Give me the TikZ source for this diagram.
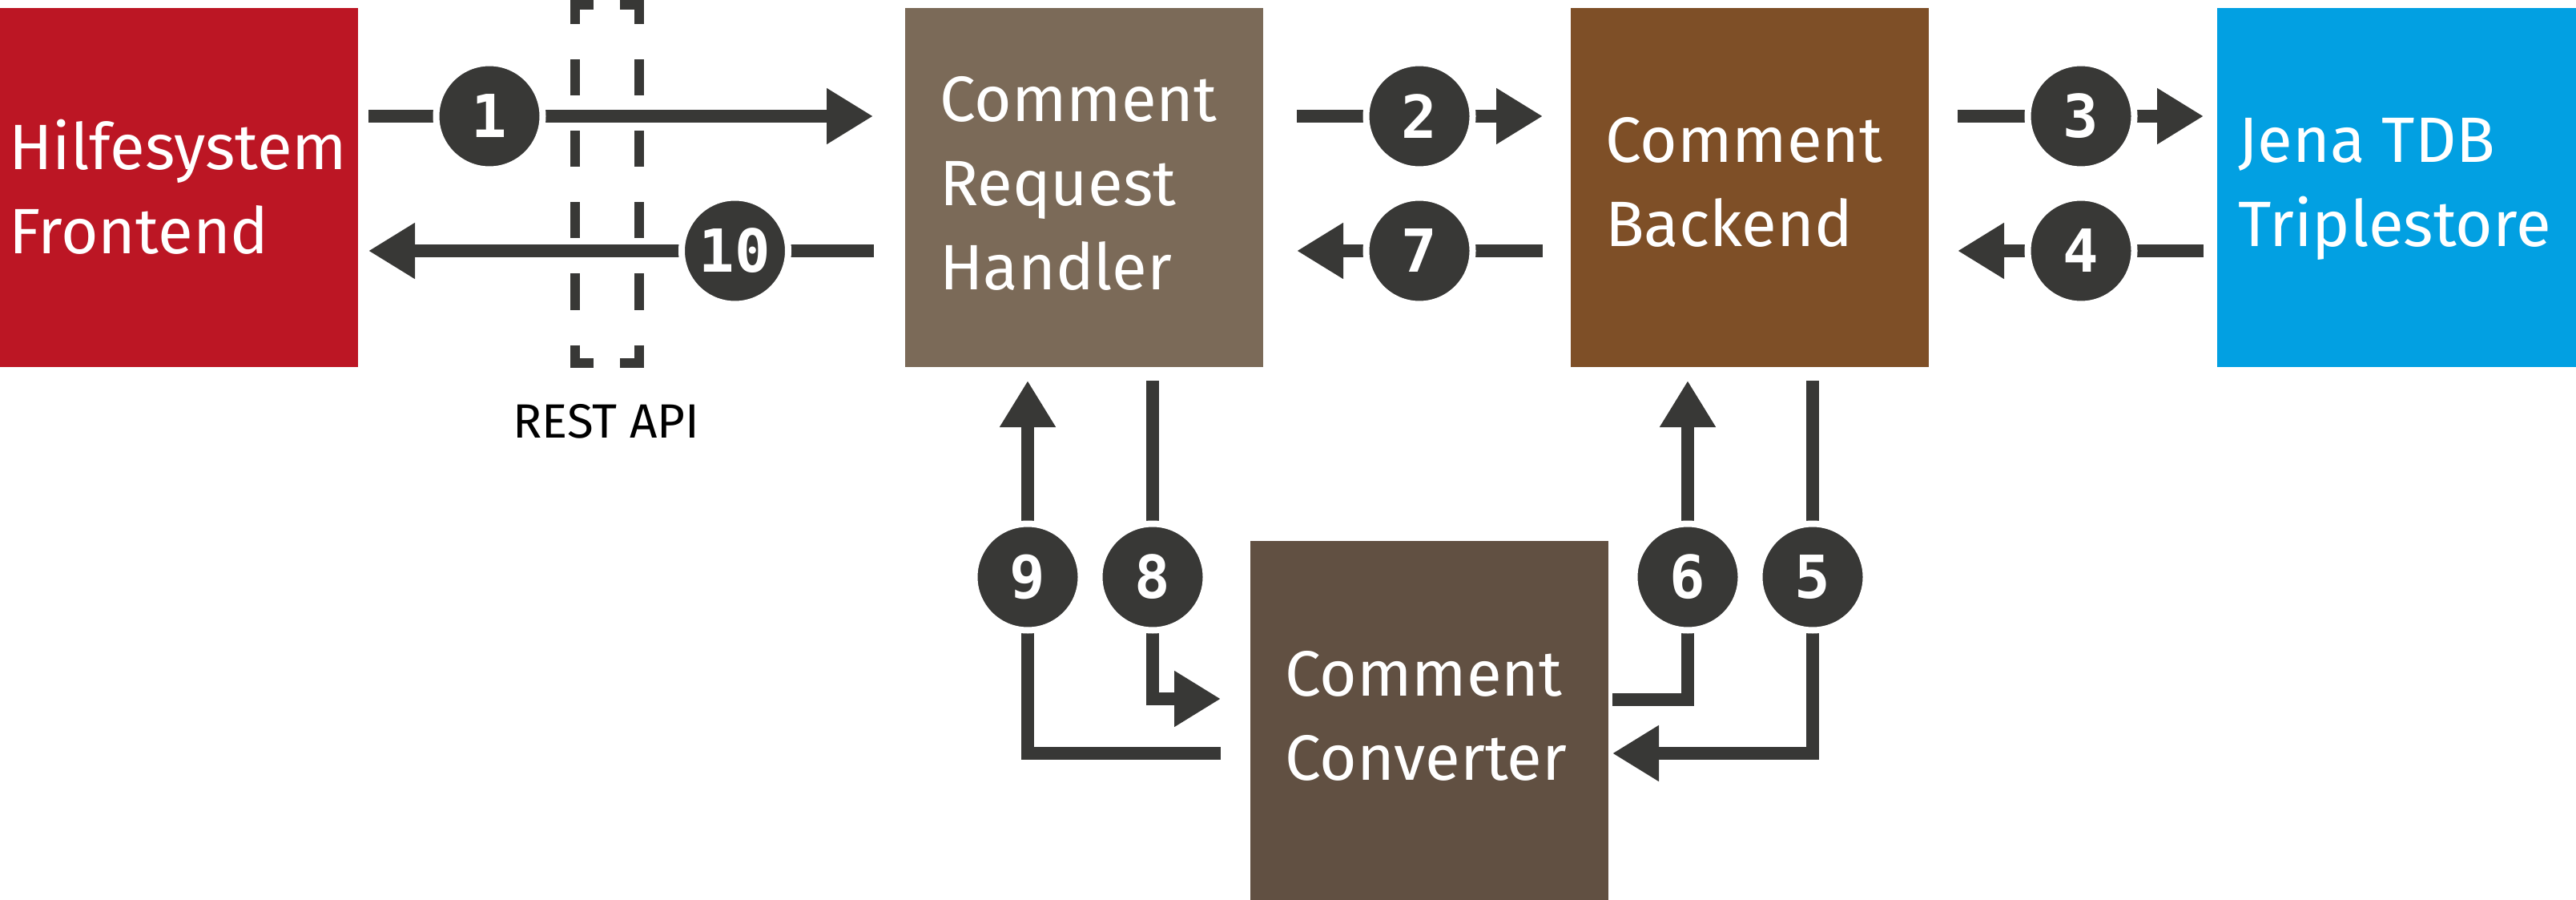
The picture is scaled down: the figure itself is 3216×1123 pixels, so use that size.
\documentclass[tikz,border=0pt]{standalone}
\usepackage{fontspec}
\setmainfont{Fira Sans}
\newfontfamily\numfont{DejaVu Sans Mono}
\usetikzlibrary{arrows.meta}
\definecolor{cfront}{HTML}{BC1624}
\definecolor{chandler}{HTML}{7B6A58}
\definecolor{cbackend}{HTML}{7E4F27}
\definecolor{cjena}{HTML}{02A0E2}
\definecolor{cconv}{HTML}{615042}
\definecolor{cdark}{HTML}{383836}
\begin{document}
\begin{tikzpicture}[x=1pt,y=-1pt,
  box/.style={inner sep=0pt, outer sep=0pt, anchor=north west, minimum width=447pt, minimum height=447.5pt},
  lbl/.style={text=white, anchor=base west, inner sep=0pt, font=\fontsize{80}{100}\selectfont},
  num/.style={circle, fill=cdark, draw=white, line width=8pt, minimum size=133pt, inner sep=0pt, text=white,
              font=\numfont\bfseries\fontsize{74}{74}\selectfont},
  conn/.style={draw=cdark, line width=16.5pt, -{Triangle[length=58pt,width=66pt]}},
  dashbr/.style={draw=cdark, line width=12pt,
     dash pattern=on 48pt off 44pt on 45pt off 44pt on 45pt off 44pt on 45pt off 44pt on 45pt off 44pt on 60pt}]
\useasboundingbox (0,0) rectangle (3216,1123);
% boxes
\node[box, fill=cfront] (front) at (0,10.5) {};
\node[box, fill=chandler] (handler) at (1130,10.5) {};
\node[box, fill=cbackend] (backend) at (1961,10.5) {};
\node[box, fill=cjena, minimum width=448pt] (jena) at (2768,10.5) {};
\node[box, fill=cconv, minimum height=460pt] (conv) at (1561,674.5) {};
% labels
\node[lbl] (tf1) at (11,212) {Hilfesystem};
\node[lbl] (tf2) at (11,317) {Frontend};
\node[lbl] (th1) at (1173,151.7) {Comment};
\node[lbl] (th2) at (1173,256.7) {Request};
\node[lbl] (th3) at (1173,361) {Handler};
\node[lbl] (tb1) at (2004,203) {Comment};
\node[lbl] (tb2) at (2004,308) {Backend};
\node[lbl] (tj1) at (2794,203) {Jena TDB};
\node[lbl] (tj2) at (2794,308) {Triplestore};
\node[lbl] (tc1) at (1604,868) {Comment};
\node[lbl] (tc2) at (1604,973.6) {Converter};
\node[anchor=base, inner sep=0pt, font=\fontsize{60}{70}\selectfont] (rest) at (757,546) {REST API};
% REST API brackets
\draw[dashbr] (741,6) -- (717.5,6) -- (717.5,453) -- (741,453);
\draw[dashbr] (774,6) -- (797.5,6) -- (797.5,453) -- (774,453);
% circle positions
\coordinate (p1) at (611,145);
\coordinate (p10) at (917.5,313);
\coordinate (p2) at (1772,145);
\coordinate (p7) at (1772,313);
\coordinate (p3) at (2598,145);
\coordinate (p4) at (2598,313);
\coordinate (p9) at (1283,720);
\coordinate (p8) at (1439,720);
\coordinate (p6) at (2107,720);
\coordinate (p5) at (2263,720);
\coordinate (q9) at (1283,940);
\coordinate (q8) at (1439,872);
\coordinate (q6) at (2107,873);
\coordinate (q5) at (2263,940);
% connectors
\draw[conn, shorten <=13pt, shorten >=40pt] (front.east |- p1) -- (handler.west |- p1);
\draw[conn, shorten <=39pt, shorten >=13pt] (handler.west |- p10) -- (front.east |- p10);
\draw[conn, shorten <=42pt, shorten >=35pt] (handler.east |- p2) -- (backend.west |- p2);
\draw[conn, shorten <=35pt, shorten >=42pt] (backend.west |- p7) -- (handler.east |- p7);
\draw[conn, shorten <=36pt, shorten >=17pt] (backend.east |- p3) -- (jena.west |- p3);
\draw[conn, shorten <=17pt, shorten >=36pt] (jena.west |- p4) -- (backend.east |- p4);
\draw[conn, shorten <=37pt, shorten >=17pt] (conv.west |- q9) -| (handler.south -| p9);
\draw[conn, shorten <=17pt, shorten >=37pt] (handler.south -| p8) |- (conv.west |- q8);
\draw[conn, shorten <=5pt, shorten >=17pt] (conv.east |- q6) -| (backend.south -| p6);
\draw[conn, shorten <=17pt, shorten >=5pt] (backend.south -| p5) |- (conv.east |- q5);
% numbered circles
\node[num] (n1) at (p1) {1};
\node[num] (n10) at (p10) {10};
\node[num] (n2) at (p2) {2};
\node[num] (n7) at (p7) {7};
\node[num] (n3) at (p3) {3};
\node[num] (n4) at (p4) {4};
\node[num] (n9) at (p9) {9};
\node[num] (n8) at (p8) {8};
\node[num] (n6) at (p6) {6};
\node[num] (n5) at (p5) {5};
\end{tikzpicture}
\end{document}
